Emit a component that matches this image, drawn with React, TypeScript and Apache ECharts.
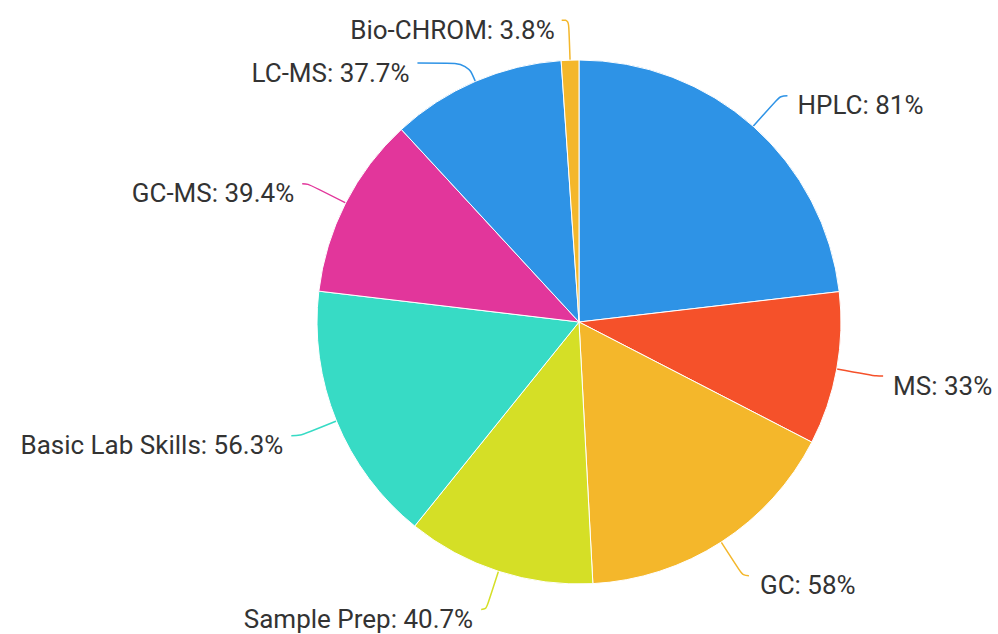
import React, { useEffect, useRef } from "react";
import * as echarts from "echarts";

const categories = ["HPLC", "MS", "GC", "Sample Prep", "Basic Lab Skills", "GC-MS", "LC-MS", "Bio-CHROM"];
const values = [81, 33, 58, 40.7, 56.3, 39.4, 37.7, 3.8];
const colors = ["#2E93E6", "#F5512A", "#F4B72B", "#D5DF26", "#37DBC5", "#E2369B", "#2E93E6", "#F4B72B"];
const lineLen1 = [41, 40, 40, 40, 39, 42, 20, 40];
const lineLen2 = [7, 7, 6, 5, 9, 6, 50, 7];
const labelGap = [10, 10, 11, 8, 8, 8, 8, 7];

export default function App() {
  const ref = useRef<HTMLDivElement>(null);
  useEffect(() => {
    document.body.style.margin = "0";
    const chart = echarts.init(ref.current!, undefined, { renderer: "svg" });
    chart.setOption({
      animation: false,
      backgroundColor: "#ffffff",
      series: [
        {
          type: "pie",
          center: [579, 322],
          radius: 262,
          startAngle: 90,
          clockwise: true,
          avoidLabelOverlap: false,
          labelLayout: { hideOverlap: false },
          itemStyle: { borderColor: "#ffffff", borderWidth: 1 },
          data: categories.map((name, i) => ({
            name,
            value: values[i],
            itemStyle: { color: colors[i] },
            label: { distanceToLabelLine: labelGap[i] },
            labelLine: { length: lineLen1[i], length2: lineLen2[i] },
          })),
          label: {
            show: true,
            position: "outside",
            formatter: (p: any) => `\n${p.name}: ${p.value}%`,
            fontFamily: "Roboto",
            fontSize: 26,
            lineHeight: 19,
            overflow: "none",
            color: "#333333",
          },
          labelLine: {
            show: true,
            smooth: 0.4,
            lineStyle: { width: 1.5 },
          },
        },
      ],
    });
    return () => chart.dispose();
  }, []);
  return <div ref={ref} style={{ width: 998, height: 634 }} />;
}
